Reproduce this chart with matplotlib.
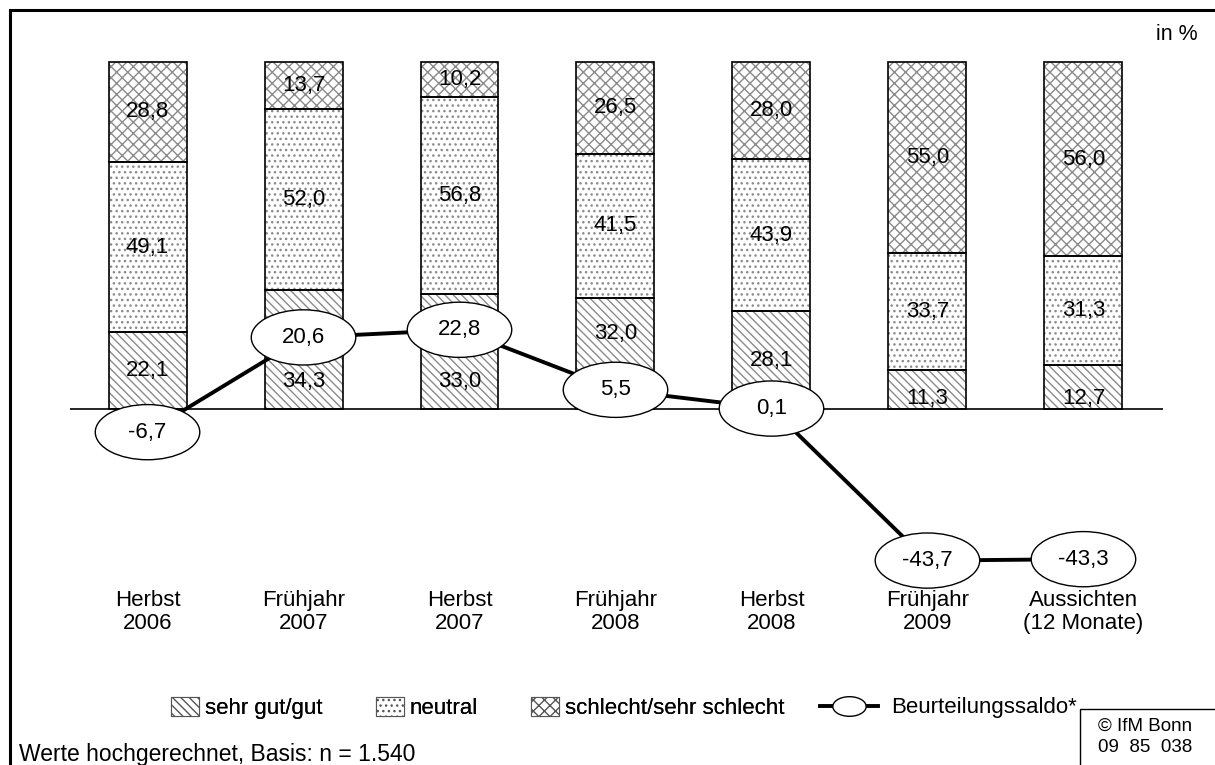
import matplotlib
matplotlib.use("Agg")
from matplotlib import pyplot as plt
from matplotlib.patches import Patch, Ellipse, Rectangle
from matplotlib.lines import Line2D
from matplotlib.path import Path
import numpy as np

plt.rcParams["font.family"] = ["Liberation Sans", "DejaVu Sans"]
plt.rcParams["hatch.linewidth"] = 1.0

categories = [
    "Herbst\n2006",
    "Frühjahr\n2007",
    "Herbst\n2007",
    "Frühjahr\n2008",
    "Herbst\n2008",
    "Frühjahr\n2009",
    "Aussichten\n(12 Monate)",
]
gut = [22.1, 34.3, 33.0, 32.0, 28.1, 11.3, 12.7]
neutral = [49.1, 52.0, 56.8, 41.5, 43.9, 33.7, 31.3]
schlecht = [28.8, 13.7, 10.2, 26.5, 28.0, 55.0, 56.0]
saldo = [-6.7, 20.6, 22.8, 5.5, 0.1, -43.7, -43.3]

series_names = ["sehr gut/gut", "neutral", "schlecht/sehr schlecht"]
hatches = ["\\\\\\\\", "...", "xxx"]

# labels moved so the ellipses don't cover them
label_y_override = {(1, 0): 8.0, (2, 0): 8.0, (3, 0): 21.7, (5, 0): 3.0, (6, 0): 3.0}


def fmt(v):
    return f"{v:.1f}".replace(".", ",")


def main():
    W, H = 1215, 765
    fig = plt.figure(figsize=(W / 100, H / 100), dpi=100)
    ax = fig.add_axes([70 / W, 185 / H, 1093 / W, 540 / H])

    x = np.arange(len(categories))
    width = 0.5
    bottom = np.zeros(len(categories))
    for s, (vals, h) in enumerate(zip([gut, neutral, schlecht], hatches)):
        vals = np.array(vals)
        ax.bar(x, vals, width, bottom=bottom, color="white", hatch=h,
               edgecolor="#8a8a8a", linewidth=0, zorder=1)
        ax.bar(x, vals, width, bottom=bottom, fill=False,
               edgecolor="black", linewidth=1.2, zorder=2)
        for i, v in enumerate(vals):
            y = label_y_override.get((i, s), bottom[i] + v / 2)
            ax.text(x[i], y, fmt(v), ha="center", va="center",
                    fontsize=16, zorder=3)
        bottom += vals

    ax.axhline(0, color="black", linewidth=1.2, zorder=2)

    ax.plot(x, saldo, color="black", linewidth=2.8, zorder=4,
            solid_capstyle="butt")
    for xi, v in zip(x, saldo):
        ax.add_patch(Ellipse((xi, v), 0.67, 15.9, facecolor="white",
                             edgecolor="black", linewidth=1.0, zorder=5,
                             clip_on=False))
        ax.text(xi, v, fmt(v), ha="center", va="center", fontsize=16,
                zorder=6)

    ax.set_xlim(-0.497, 6.51)
    ax.set_ylim(-49.3, 106.3)
    ax.set_xticks(x)
    ax.set_xticklabels(categories, fontsize=16, linespacing=1.15)
    ax.tick_params(axis="x", length=0, pad=7)
    ax.set_yticks([])
    for sp in ax.spines.values():
        sp.set_visible(False)

    # legend
    patch_handles = [
        Patch(facecolor="white", edgecolor="#555555", hatch=h, linewidth=0.8)
        for h in hatches
    ]
    leg1 = fig.legend(patch_handles, series_names, loc="center left",
                      bbox_to_anchor=(151 / W, 1 - 708 / H), ncol=3,
                      frameon=False, fontsize=16, handlelength=1.26,
                      handleheight=0.9, handletextpad=0.27, columnspacing=2.4)
    fig.add_artist(leg1)
    t = np.linspace(0, 2 * np.pi, 60)
    ell = Path(np.column_stack([1.7 * np.cos(t), np.sin(t)]))
    line_handle = Line2D([], [], color="black", linewidth=2.8, marker=ell,
                         markersize=24, markerfacecolor="white",
                         markeredgecolor="black", markeredgewidth=1.0)
    fig.legend([line_handle], ["Beurteilungssaldo*"], loc="center left",
               bbox_to_anchor=(800 / W, 1 - 708 / H), frameon=False,
               fontsize=16, handlelength=2.6, handletextpad=0.6)

    fig.text(1198 / W, 1 - 34 / H, "in %", ha="right", va="center",
             fontsize=15.5)
    fig.text(19 / W, 1 - 754 / H, "Werte hochgerechnet, Basis: n = 1.540",
             ha="left", va="center", fontsize=16.5)
    fig.text(1098 / W, 1 - 737 / H, "© IfM Bonn\n09  85  038",
             ha="left", va="center", fontsize=13.5, linespacing=1.3)
    fig.add_artist(Rectangle((1080 / W, -0.01), 140 / W, (H - 709) / H + 0.01,
                             transform=fig.transFigure, fill=False,
                             edgecolor="black", linewidth=1.0))
    # outer frame
    fig.add_artist(Rectangle((10 / W, -0.01), 1.1, 1 - 10 / H + 0.01,
                             transform=fig.transFigure, fill=False,
                             edgecolor="black", linewidth=2.2))

    fig.savefig("out.png", dpi=100)


if __name__ == "__main__":
    main()
